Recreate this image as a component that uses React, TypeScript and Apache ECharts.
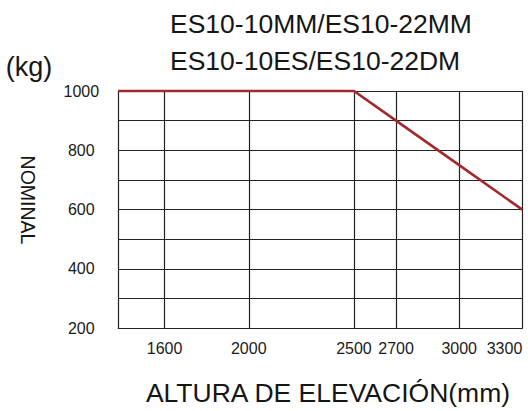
import React, { useEffect, useRef } from "react";
import * as echarts from "echarts";

// Lift height (mm) vs nominal load (kg)
const heights = [1380, 2500, 2700, 3000, 3300];
const loads = [1000, 1000, 900, 750, 600];
const xTicks = [1600, 2000, 2500, 2700, 3000, 3300];
const xMin = 1380;
const xMax = 3300;
const yMin = 200;
const yMax = 1000;
const yStep = 100;

const titleLines = ["ES10-10MM/ES10-22MM", "ES10-10ES/ES10-22DM"];
const unitLabel = "(kg)";
const yName = "NOMINAL";
const xName = "ALTURA DE ELEVACIÓN(mm)";

const NARROW = "'Liberation Sans Narrow','Arial Narrow','Liberation Sans',Arial,sans-serif";
const SANS = "'Liberation Sans',Arial,Helvetica,sans-serif";

export default function App() {
  const ref = useRef<HTMLDivElement>(null);
  useEffect(() => {
    document.body.style.margin = "0";
    if (!ref.current) return;
    const chart = echarts.init(ref.current, undefined, { renderer: "svg" });
    chart.setOption({
      animation: false,
      backgroundColor: "#ffffff",
      title: {
        text: titleLines.join("\n"),
        left: 170,
        top: 5,
        padding: 0,
        textStyle: {
          fontFamily: SANS,
          fontSize: 26.5,
          fontWeight: "normal",
          lineHeight: 37.5,
          color: "#161616",
        },
      },
      grid: { left: 118.3, right: 5.7, top: 91, bottom: 82.7, containLabel: false },
      xAxis: {
        type: "value",
        min: xMin,
        max: xMax,
        axisLine: { show: true, lineStyle: { color: "#222", width: 1.2 } },
        axisTick: { show: false, customValues: xTicks },
        splitLine: { show: true, lineStyle: { color: "#222", width: 1.2 } },
        axisLabel: {
          customValues: xTicks,
          alignMaxLabel: "right",
          showMaxLabel: true,
          hideOverlap: false,
          margin: 12,
          fontFamily: NARROW,
          fontSize: 16,
          color: "#1a1a1a",
          formatter: (v: number) => String(v),
        },
      },
      yAxis: {
        type: "value",
        min: yMin,
        max: yMax,
        interval: yStep,
        axisLine: { show: true, lineStyle: { color: "#222", width: 1.2 } },
        axisTick: { show: false },
        splitLine: { show: true, lineStyle: { color: "#222", width: 1.2 } },
        axisLabel: {
          align: "center",
          margin: 37,
          fontFamily: NARROW,
          fontSize: 16,
          color: "#1a1a1a",
          formatter: (v: number) => (v % 200 === 0 ? String(v) : ""),
        },
      },
      graphic: [
        {
          type: "text",
          x: 29,
          y: 67,
          style: {
            text: unitLabel,
            fontFamily: SANS,
            fontSize: 27,
            fill: "#161616",
            align: "center",
            verticalAlign: "middle",
          },
        },
        {
          type: "text",
          x: 27.5,
          y: 200,
          rotation: -Math.PI / 2,
          style: {
            text: yName,
            fontFamily: SANS,
            fontSize: 19.5,
            fill: "#161616",
            align: "center",
            verticalAlign: "middle",
          },
        },
        {
          type: "text",
          x: 328,
          y: 392.5,
          style: {
            text: xName,
            fontFamily: SANS,
            fontSize: 26.5,
            fill: "#161616",
            align: "center",
            verticalAlign: "middle",
          },
        },
      ],
      series: [
        {
          type: "line",
          data: heights.map((h, i) => [h, loads[i]]),
          symbol: "none",
          clip: false,
          lineStyle: { color: "#a3282d", width: 2.6 },
          z: 5,
        },
      ],
    });
    return () => chart.dispose();
  }, []);
  return <div ref={ref} style={{ width: 528, height: 411 }} />;
}
